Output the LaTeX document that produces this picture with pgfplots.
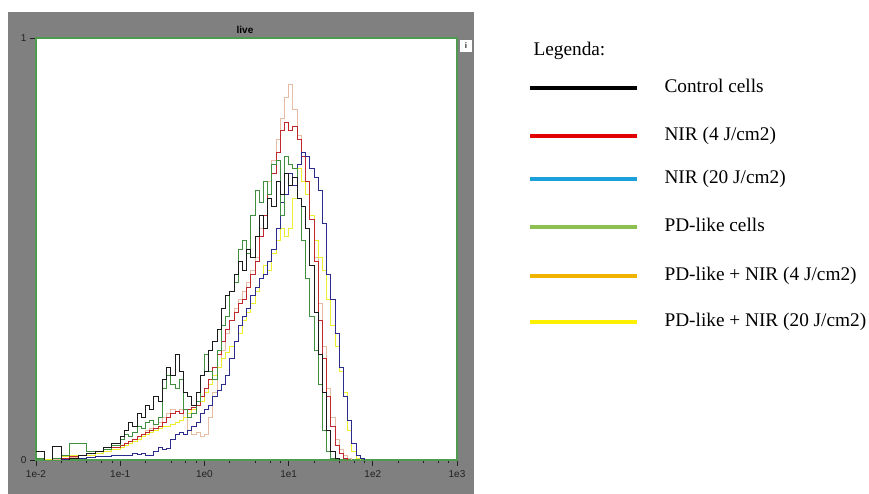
\documentclass[border=0pt]{standalone}
\usepackage{fontspec}
\setmainfont{Liberation Serif}
\setsansfont{Liberation Sans}
\usepackage{pgfplots}
\pgfplotsset{compat=1.18}
\usepackage{pgfplotstable}

\definecolor{panelgray}{HTML}{808080}
\definecolor{framegreen}{HTML}{4F9A4F}
\definecolor{tickgray}{HTML}{222222}
\definecolor{cCtrl}{HTML}{1A1A1A}
\definecolor{cNirA}{HTML}{C0282D}
\definecolor{cNirB}{HTML}{2B2B8C}
\definecolor{cPd}{HTML}{3F8F3F}
\definecolor{cPdA}{HTML}{E6BCA5}
\definecolor{cPdB}{HTML}{EEEE30}
\definecolor{lBlack}{HTML}{000000}
\definecolor{lRed}{HTML}{E00000}
\definecolor{lBlue}{HTML}{1CA0DC}
\definecolor{lGreen}{HTML}{8CC152}
\definecolor{lOrange}{HTML}{F0B400}
\definecolor{lYellow}{HTML}{FFF000}

\pgfplotstableread{
x ctrl nir4 nir20 pd pd4 pd20
1.00e-2 0.020 0.000 0.000 0.005 0.000 0.000
1.26e-2 0.000 0.000 0.000 0.000 0.000 0.002
1.58e-2 0.033 0.003 0.000 0.005 0.002 0.005
2.00e-2 0.000 0.005 0.002 0.010 0.004 0.008
2.51e-2 0.005 0.008 0.003 0.040 0.006 0.010
3.16e-2 0.010 0.012 0.005 0.040 0.010 0.012
3.98e-2 0.015 0.015 0.006 0.020 0.012 0.012
5.01e-2 0.020 0.020 0.008 0.020 0.015 0.015
6.31e-2 0.030 0.025 0.008 0.025 0.020 0.020
7.94e-2 0.040 0.030 0.010 0.035 0.025 0.025
1.00e-1 0.055 0.035 0.010 0.050 0.030 0.030
1.12e-1 0.070 0.040 0.012 0.060 0.035 0.035
1.26e-1 0.090 0.045 0.012 0.055 0.040 0.040
1.41e-1 0.080 0.050 0.015 0.065 0.050 0.045
1.58e-1 0.110 0.055 0.013 0.080 0.055 0.050
1.78e-1 0.100 0.060 0.015 0.075 0.060 0.055
2.00e-1 0.130 0.065 0.012 0.090 0.070 0.060
2.24e-1 0.120 0.070 0.012 0.095 0.075 0.065
2.51e-1 0.150 0.075 0.020 0.085 0.085 0.070
2.82e-1 0.140 0.080 0.030 0.100 0.090 0.075
3.16e-1 0.190 0.090 0.025 0.170 0.100 0.080
3.55e-1 0.220 0.100 0.028 0.200 0.110 0.080
3.98e-1 0.200 0.110 0.050 0.180 0.120 0.085
4.47e-1 0.250 0.115 0.060 0.170 0.115 0.090
5.01e-1 0.210 0.110 0.065 0.190 0.120 0.095
5.62e-1 0.160 0.120 0.060 0.120 0.100 0.100
6.31e-1 0.150 0.120 0.070 0.100 0.070 0.110
7.08e-1 0.130 0.125 0.080 0.110 0.060 0.120
7.94e-1 0.160 0.130 0.090 0.140 0.065 0.130
8.91e-1 0.200 0.150 0.110 0.200 0.055 0.140
1.00 0.210 0.170 0.120 0.250 0.060 0.160
1.12 0.260 0.190 0.130 0.210 0.100 0.180
1.26 0.280 0.220 0.150 0.190 0.160 0.200
1.41 0.310 0.250 0.165 0.260 0.220 0.220
1.58 0.360 0.280 0.180 0.320 0.260 0.240
1.78 0.390 0.310 0.200 0.340 0.300 0.255
2.00 0.400 0.330 0.240 0.400 0.330 0.270
2.24 0.440 0.350 0.280 0.420 0.360 0.280
2.51 0.470 0.370 0.320 0.500 0.380 0.300
2.82 0.450 0.380 0.340 0.520 0.400 0.330
3.16 0.500 0.410 0.360 0.490 0.420 0.350
3.55 0.480 0.440 0.390 0.580 0.450 0.370
3.98 0.530 0.470 0.410 0.640 0.480 0.400
4.47 0.580 0.530 0.430 0.610 0.550 0.430
5.01 0.550 0.580 0.440 0.660 0.580 0.460
5.62 0.620 0.630 0.470 0.630 0.660 0.450
6.31 0.600 0.680 0.500 0.700 0.710 0.490
7.08 0.660 0.730 0.550 0.710 0.760 0.520
7.94 0.630 0.780 0.610 0.580 0.810 0.550
8.91 0.680 0.800 0.630 0.720 0.860 0.530
10.0 0.650 0.780 0.680 0.700 0.890 0.550
11.2 0.670 0.790 0.650 0.690 0.830 0.620
12.6 0.620 0.760 0.700 0.620 0.770 0.690
14.1 0.600 0.720 0.730 0.520 0.720 0.660
15.8 0.550 0.660 0.720 0.430 0.660 0.630
17.8 0.460 0.570 0.690 0.340 0.580 0.580
20.0 0.350 0.470 0.670 0.260 0.480 0.520
22.4 0.250 0.330 0.640 0.180 0.370 0.480
25.1 0.160 0.240 0.560 0.070 0.270 0.450
28.2 0.070 0.150 0.440 0.020 0.170 0.380
31.6 0.020 0.080 0.380 0.003 0.100 0.320
35.5 0.005 0.035 0.300 0.000 0.050 0.270
39.8 0.000 0.015 0.220 0.000 0.025 0.210
44.7 0.000 0.005 0.150 0.000 0.010 0.160
50.1 0.000 0.000 0.095 0.000 0.004 0.070
56.2 0.000 0.000 0.040 0.000 0.000 0.020
63.1 0.000 0.000 0.012 0.000 0.000 0.005
70.8 0.000 0.000 0.003 0.000 0.000 0.000
79.4 0.000 0.000 0.000 0.000 0.000 0.000
100 0.000 0.000 0.000 0.000 0.000 0.000
}\histdata

\begin{document}
\begin{tikzpicture}
\path[use as bounding box] (0pt,0pt) rectangle (869pt,494pt);
\fill[panelgray] (8pt,0pt) rectangle (474pt,482pt);
\node[font=\sffamily\bfseries\fontsize{10}{11}\selectfont, text=black] at (245pt,464pt) {live};
\fill[white] (460pt,442pt) rectangle (472pt,454pt);
\node[font=\sffamily\bfseries\fontsize{8}{9}\selectfont, text=tickgray] at (466pt,448pt) {i};

\begin{axis}[
  at={(36pt,34pt)}, anchor=south west,
  scale only axis, width=421pt, height=422pt,
  xmode=log, log basis x=10,
  xmin=1e-2, xmax=1e3, ymin=0, ymax=1,
  axis background/.style={fill=white},
  axis line style={framegreen, line width=1.6pt},
  xtick={1e-2,1e-1,1,10,100,1000},
  xticklabels={1e-2,1e-1,1e0,1e1,1e2,1e3},
  minor xtick={2e-2,4e-2,6e-2,8e-2,0.2,0.4,0.6,0.8,2,4,6,8,20,40,60,80,200,400,600,800},
  ytick={0,1}, yticklabels={0,1},
  xtick pos=bottom, ytick pos=left,
  tick align=outside,
  major tick length=6pt, minor tick length=3.5pt,
  tick style={tickgray, line width=0.7pt},
  tick label style={font=\sffamily\fontsize{10}{12}\selectfont, text=tickgray},
  xticklabel style={yshift=-1pt},
  /pgf/number format/assume math mode=true,
  every axis plot/.append style={const plot, line width=0.75pt, mark=none},
]
\addplot[cPdA] table[x=x, y=pd4] {\histdata};
\addplot[cPdB] table[x=x, y=pd20] {\histdata};
\addplot[cNirA] table[x=x, y=nir4] {\histdata};
\addplot[cNirB] table[x=x, y=nir20] {\histdata};
\addplot[cPd] table[x=x, y=pd] {\histdata};
\addplot[cCtrl] table[x=x, y=ctrl] {\histdata};
\end{axis}

\node[anchor=base west, font=\fontsize{19.3}{22}\selectfont] at (530pt,438.3pt) {Legenda:};
\draw[lBlack, line width=4pt] (530pt,406pt) -- (637pt,406pt);
\node[anchor=base west, font=\fontsize{19.3}{22}\selectfont] at (661pt,401pt) {Control cells};
\draw[lRed, line width=4pt] (530pt,358pt) -- (637pt,358pt);
\node[anchor=base west, font=\fontsize{19.3}{22}\selectfont] at (661pt,353pt) {NIR (4 J/cm2)};
\draw[lBlue, line width=4pt] (530pt,315pt) -- (637pt,315pt);
\node[anchor=base west, font=\fontsize{19.3}{22}\selectfont] at (661pt,310pt) {NIR (20 J/cm2)};
\draw[lGreen, line width=4pt] (530pt,267pt) -- (637pt,267pt);
\node[anchor=base west, font=\fontsize{19.3}{22}\selectfont] at (661pt,262pt) {PD-like cells};
\draw[lOrange, line width=4pt] (530pt,218pt) -- (637pt,218pt);
\node[anchor=base west, font=\fontsize{19.3}{22}\selectfont] at (661pt,213pt) {PD-like + NIR (4 J/cm2)};
\draw[lYellow, line width=4pt] (530pt,172pt) -- (637pt,172pt);
\node[anchor=base west, font=\fontsize{19.3}{22}\selectfont] at (661pt,167pt) {PD-like + NIR (20 J/cm2)};
\end{tikzpicture}
\end{document}
